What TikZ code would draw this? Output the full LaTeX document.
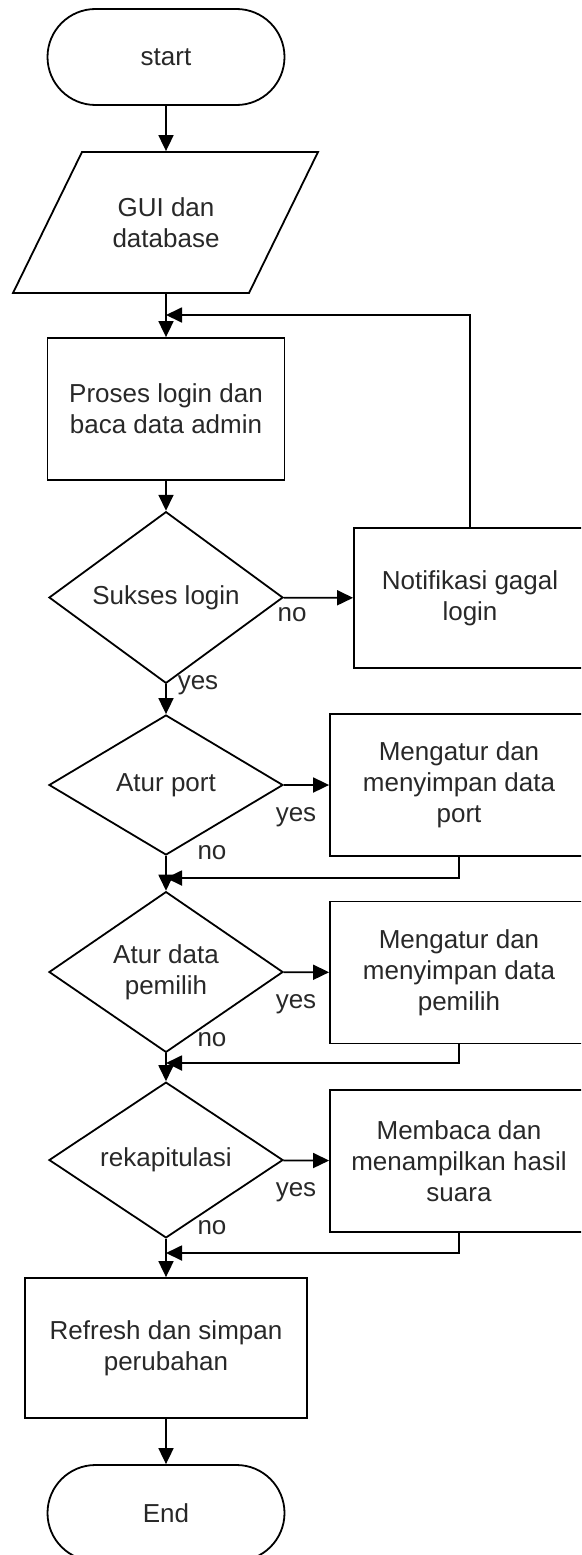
\documentclass[tikz,border=0pt]{standalone}
\usepackage{fontspec}
\setmainfont{Liberation Sans}
\usetikzlibrary{shapes.geometric,shapes.misc,arrows.meta}
\definecolor{txt}{RGB}{40,40,40}
\tikzset{
  base/.style={draw=black, line width=1.8pt, text=txt, align=center, inner sep=0pt,
    font=\fontsize{26}{31}\selectfont},
  term/.style={base, rounded rectangle, rounded rectangle arc length=180, minimum width=237pt, minimum height=96pt},
  procbox/.style={base, rectangle, minimum width=237pt, minimum height=142pt},
  sidebox/.style={base, rectangle, minimum width=258pt, minimum height=142pt},
  decision/.style={base, diamond, minimum width=234pt, minimum height=140pt},
  lbl/.style={text=txt, inner sep=0pt, font=\fontsize{26}{31}\selectfont},
  conn/.style={line width=1.8pt, -{Triangle[length=16pt,width=15pt]}},
}
\begin{document}
\begin{tikzpicture}[x=1pt,y=-1pt]
\useasboundingbox (0,0) rectangle (581,1555);
\clip (0,0) rectangle (581,1555);
% nodes
\node[term] (start) at (166,57) {start};
\node[base, draw=none, minimum width=236pt, minimum height=141pt] (gui) at (166,222.5) {GUI dan\\database};
\draw[line width=1.8pt] (82,152) -- (318,152) -- (249,293) -- (13,293) -- cycle;
\node[procbox] (proc) at (166,409) {Proses login dan\\baca data admin};
\node[decision] (d1) at (166,597.5) {Sukses login};
\node[base, rectangle, minimum width=232pt, minimum height=140pt] (notif) at (470,598) {Notifikasi gagal\\login};
\node[decision] (d2) at (166,785) {Atur port};
\node[sidebox] (b1) at (459,785) {Mengatur dan\\menyimpan data\\port};
\node[decision] (d3) at (166,972) {Atur data\\pemilih};
\node[sidebox] (b2) at (459,972.5) {Mengatur dan\\menyimpan data\\pemilih};
\node[decision] (d4) at (166,1160) {rekapitulasi};
\node[sidebox] (b3) at (459,1161) {Membaca dan\\menampilkan hasil\\suara};
\node[base, rectangle, minimum width=282pt, minimum height=140pt] (ref) at (166,1348) {Refresh dan simpan\\perubahan};
\node[term] (end) at (166,1513) {End};
% junctions
\coordinate (j1) at (166,315);
\coordinate (j2) at (166,878);
\coordinate (j3) at (166,1063);
\coordinate (j4) at (166,1253);
% connectors
\draw[conn] (start) -- (gui.north);
\draw[conn] (gui.south) -- (proc);
\draw[conn] (notif.north) |- (j1);
\draw[conn] (proc) -- (d1);
\draw[conn] (d1) -- (notif);
\draw[conn] (d1) -- (d2);
\draw[conn] (d2) -- (b1);
\draw[conn] (d2) -- (d3);
\draw[conn] (b1.south) |- (j2);
\draw[conn] (d3) -- (b2);
\draw[conn] (d3) -- (d4);
\draw[conn] (b2.south) |- (j3);
\draw[conn] (d4) -- (b3);
\draw[conn] (d4) -- (ref);
\draw[conn] (b3.south) |- (j4);
\draw[conn] (ref) -- (end);
% labels
\node[lbl] (l1) at (292,615) {no};
\node[lbl] (l2) at (198,685) {yes};
\node[lbl] (l3) at (296,817) {yes};
\node[lbl] (l4) at (212,853) {no};
\node[lbl] (l5) at (296,1004) {yes};
\node[lbl] (l6) at (212,1040) {no};
\node[lbl] (l7) at (296,1192) {yes};
\node[lbl] (l8) at (212,1228) {no};
\end{tikzpicture}
\end{document}
